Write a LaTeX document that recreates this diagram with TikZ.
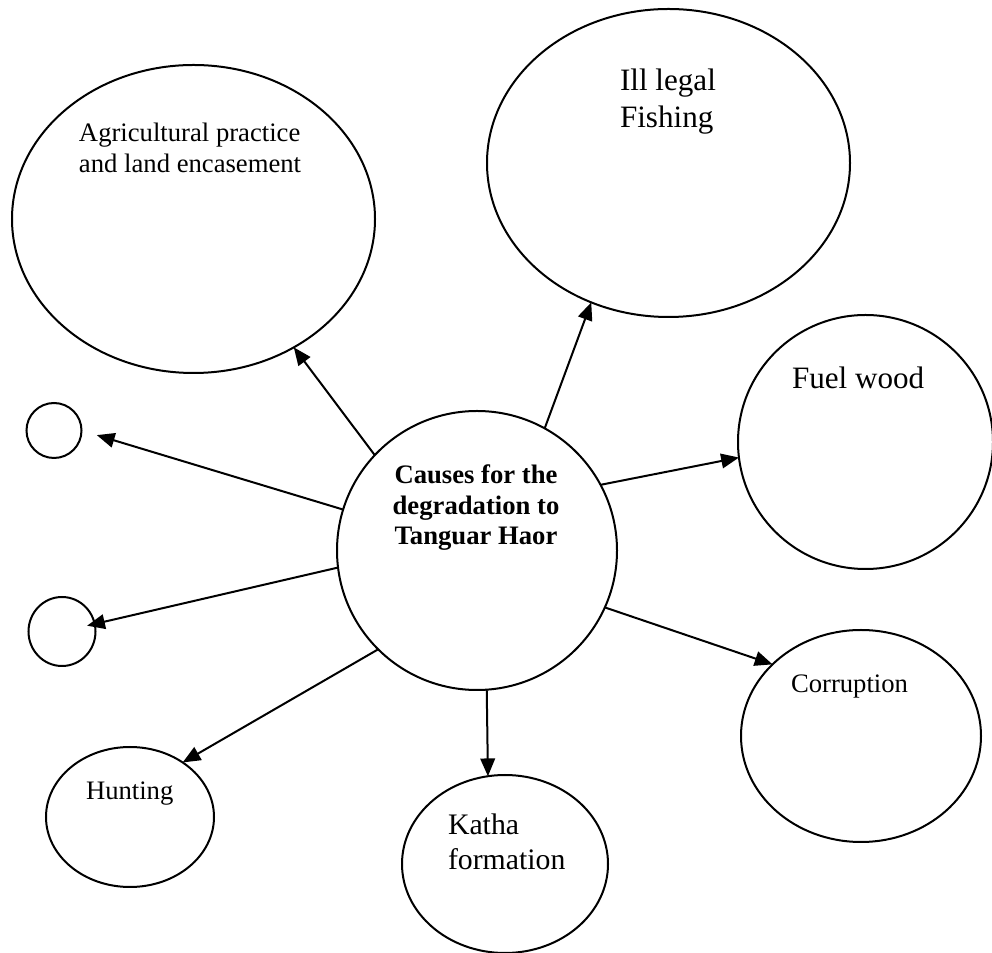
\documentclass[tikz,border=0pt]{standalone}
\usepackage{fontspec}
\setmainfont{Liberation Serif}
\usetikzlibrary{shapes.geometric,arrows.meta}
\tikzset{
  bubble/.style={draw, ellipse, line width=0.9pt, inner sep=0pt, outer sep=0pt},
  arr/.style={line width=0.9pt, -{Triangle[length=8pt,width=6.6pt]}},
  lbl/.style={inner sep=0pt, outer sep=0pt, anchor=base west, align=left}
}
\newcommand{\tl}[1]{\begin{tabular}[t]{@{}l@{}}#1\end{tabular}}
\newcommand{\tc}[1]{\begin{tabular}[t]{@{}c@{}}#1\end{tabular}}
\begin{document}
\begin{tikzpicture}[x=0.45pt,y=-0.45pt]
\useasboundingbox (0,0) rectangle (992,953);
% bubbles
\node[bubble, minimum width=163.35pt, minimum height=138.6pt] (agri) at (193.5,219) {};
\node[bubble, minimum width=163.35pt, minimum height=138.6pt] (fish) at (668.5,163) {};
\node[bubble, minimum width=114.75pt, minimum height=114.3pt] (fuel) at (865.5,442) {};
\node[bubble, minimum width=126pt, minimum height=125.55pt] (c) at (477,550.5) {};
\node[bubble, minimum width=108pt, minimum height=95.4pt] (corr) at (861,736) {};
\node[bubble, minimum width=92.7pt, minimum height=80.1pt] (katha) at (505,864) {};
\node[bubble, minimum width=75.6pt, minimum height=63pt] (hunt) at (130,817) {};
\node[bubble, minimum width=24.75pt, minimum height=24.75pt] (c1) at (54,430.5) {};
\node[bubble, minimum width=30.15pt, minimum height=31.05pt] (c2) at (62,631.5) {};
% labels
\node[lbl, font=\fontsize{12}{13.95}\selectfont] (agrit) at (79,142) {\tl{Agricultural practice\\and land encasement}};
\node[lbl, font=\fontsize{14}{16.65}\selectfont] (fisht) at (620,91) {\tl{Ill legal\\Fishing}};
\node[lbl, font=\fontsize{14}{16.65}\selectfont] (fuelt) at (792,389) {Fuel wood};
\node[inner sep=0pt, anchor=base, font=\fontsize{12}{13.7}\selectfont\bfseries] (ct) at (476,484) {\tc{Causes for the\\degradation to\\Tanguar Haor}};
\node[lbl, font=\fontsize{12}{13.95}\selectfont] (corrt) at (791,693) {Corruption};
\node[lbl, font=\fontsize{12}{13.95}\selectfont] (huntt) at (86,800) {Hunting};
\node[lbl, font=\fontsize{13.4}{15.75}\selectfont] (kathat) at (448,835) {\tl{Katha\\formation}};
% connectors
\draw[arr] (c.137.4) -- (agri.-52.4);
\draw[arr] (c.61.9) -- (fish.-119.4);
\draw[arr] (c.28.8) -- (fuel.-173);
\draw[arr] (c.-24.2) -- (corr.141.3);
\draw[arr] (c.-86) -- (katha.101.6);
\draw[arr] (c.225.1) -- (hunt.46.1);
\draw[arr, shorten >=-3.5pt] (c.187.6) -- (c2.13.5);
\draw[arr, shorten >=7.2pt] (c.163.9) -- (c1.0);
\end{tikzpicture}
\end{document}
